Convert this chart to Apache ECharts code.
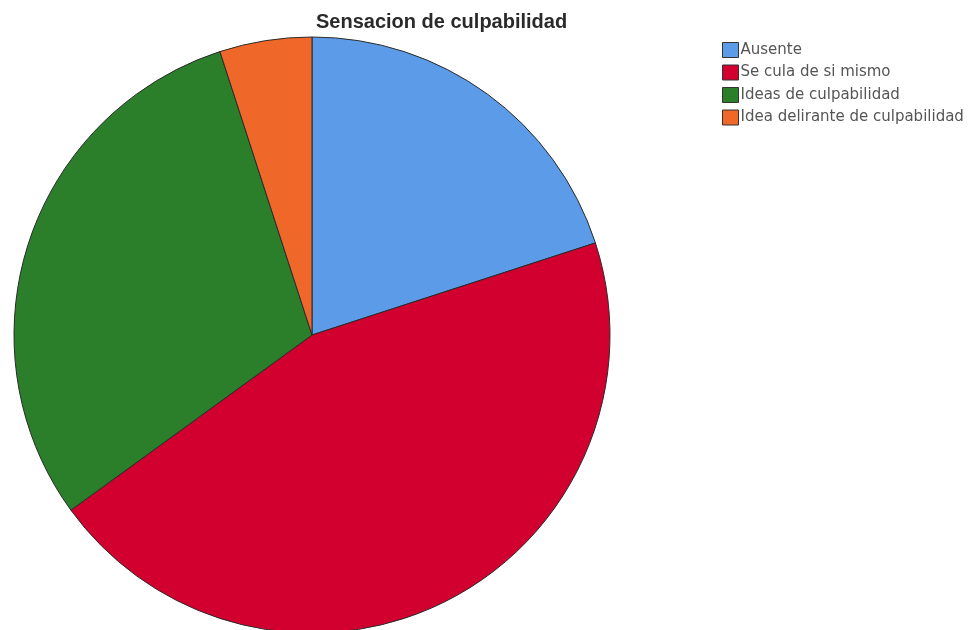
<!DOCTYPE html>
<html>
<head>
<meta charset="utf-8">
<script src="https://cdn.jsdelivr.net/npm/echarts@6/dist/echarts.min.js"></script>
<style>
html, body { margin: 0; padding: 0; background: #fff; }
#chart { width: 972px; height: 630px; }
</style>
</head>
<body>
<div id="chart"></div>
<script>
// Categories and counts for the guilt-feeling item
const categories = ['Ausente', 'Se cula de si mismo', 'Ideas de culpabilidad', 'Idea delirante de culpabilidad'];
const counts = [4, 9, 6, 1];
const colors = ['#5b9be8', '#d2002f', '#2b7f2b', '#f0672a'];

const chart = echarts.init(document.getElementById('chart'));
chart.setOption({
  animation: false,
  color: colors,
  title: {
    text: 'Sensacion de culpabilidad',
    left: 311,
    top: 7,
    textStyle: { fontFamily: 'Liberation Sans, Arial, sans-serif', fontSize: 20, fontWeight: 'bold', color: '#2a2a2a' }
  },
  legend: {
    orient: 'vertical',
    left: 717,
    top: 37,
    itemWidth: 16,
    itemHeight: 15,
    itemGap: 6.5,
    icon: 'rect',
    itemStyle: { borderColor: '#333', borderWidth: 1 },
    textStyle: { fontFamily: 'DejaVu Sans, sans-serif', fontSize: 15, color: '#555', padding: [0, 0, 0, -3] },
    data: categories
  },
  series: [{
    type: 'pie',
    center: [312, 335],
    radius: 298,
    startAngle: 90,
    clockwise: true,
    label: { show: false },
    labelLine: { show: false },
    itemStyle: { borderColor: '#2a2a2a', borderWidth: 1 },
    emphasis: { disabled: true },
    data: categories.map((name, i) => ({ name, value: counts[i] }))
  }]
});
</script>
</body>
</html>
